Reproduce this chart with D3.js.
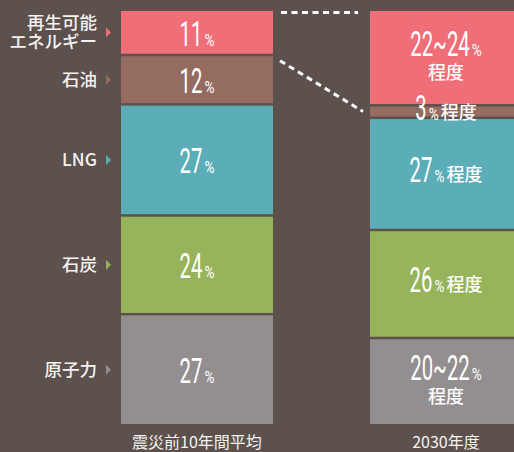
<!DOCTYPE html>
<html>
<head>
<meta charset="utf-8">
<script src="https://cdn.jsdelivr.net/npm/d3@7"></script>
<style>
    body { margin: 0; background: #5c514d; }
    svg { display: block; }
</style>
</head>
<body>
<div id="chart-area"></div>
<script>
// ---- data ----
var sources = ["再生可能エネルギー", "石油", "LNG", "石炭", "原子力"];
var sourceLines = [["再生可能", "エネルギー"], ["石油"], ["LNG"], ["石炭"], ["原子力"]];
var periods = ["震災前10年間平均", "2030年度"];
var shareBefore = [11, 12, 27, 24, 27];
var share2030 = [23, 3, 27, 26, 21];   // ranges drawn at their midpoint
var labelsBefore = ["11%", "12%", "27%", "24%", "27%"];
var labels2030 = ["22~24%|程度", "3%程度", "27%程度", "26%程度", "20~22%|程度"];
var colors = ["#f06e77", "#946d60", "#5badb7", "#98b45b", "#938e8f"];

var width = 514, height = 452;
var gap = 2.5;
var jpFont = "'Noto Sans CJK JP', 'Noto Sans', sans-serif";

var svg = d3.select("#chart-area")
    .append("svg")
        .attr("width", width)
        .attr("height", height);

// one row per period, one column per source
var rows = periods.map(function(p, i) {
    var row = { period: p };
    var vals = i == 0 ? shareBefore : share2030;
    sources.forEach(function(s, j) { row[s] = vals[j]; });
    return row;
});

var stack = d3.stack()
    .keys(sources)
    .offset(d3.stackOffsetExpand);
var series = stack(rows);

var x = d3.scaleBand()
    .domain(periods)
    .range([121, 522])
    .paddingInner(97 / 249);

var y = d3.scaleLinear()
    .domain([0, 1])
    .range([11, 426.5]);

var color = d3.scaleOrdinal()
    .domain(sources)
    .range(colors);

// stacked segments
var layers = svg.selectAll("g.layer")
        .data(series)
    .enter()
        .append("g")
        .attr("class", "layer")
        .attr("fill", function(d) { return color(d.key); });

layers.selectAll("rect")
        .data(function(d) { return d; })
    .enter()
        .append("rect")
        .attr("x", function(d) { return x(d.data.period); })
        .attr("y", function(d) { return y(d[0]); })
        .attr("width", x.bandwidth())
        .attr("height", function(d) { return y(d[1]) - y(d[0]) - gap; });

function mid(d) {
    return (y(d[0]) + y(d[1]) - gap) / 2;
}

// one line of a value label: condensed number, small %, then 程度
function addLine(parent, line, cx, baseline) {
    var m = line.match(/^([\d~]*)(%?)(.*)$/);
    var g = parent.append("g");
    var parts = [];
    if (m[1]) {
        var t = g.append("text")
            .attr("font-family", "Roboto, sans-serif")
            .attr("font-weight", 400)
            .attr("font-size", 35)
            .text(m[1]);
        parts.push({ node: t, sx: 0.58 });
    }
    if (m[2]) {
        var t2 = g.append("text")
            .attr("font-family", "Roboto, sans-serif")
            .attr("font-size", 17)
            .text("%");
        parts.push({ node: t2, sx: 0.8 });
    }
    if (m[3]) {
        var t3 = g.append("text")
            .attr("font-family", jpFont)
            .attr("font-weight", 500)
            .attr("font-size", 18)
            .attr("dy", -1)
            .text(m[3]);
        parts.push({ node: t3, sx: 1 });
    }
    var pos = 0;
    parts.forEach(function(p, i) {
        if (i > 0) pos += 2;
        p.node.attr("transform", "translate(" + pos + ",0) scale(" + p.sx + ",1)");
        pos += p.node.node().getComputedTextLength() * p.sx;
    });
    g.attr("fill", "#fff")
        .attr("transform", "translate(" + (cx - pos / 2) + "," + baseline + ")");
}

var labelLayer = svg.append("g");
series.forEach(function(s, i) {
    // before the earthquake
    var d0 = s[0];
    addLine(labelLayer, labelsBefore[i], x(periods[0]) + x.bandwidth() / 2, mid(d0) + 13.5);

    // 2030 target
    var d1 = s[1];
    var lines = labels2030[i].split("|");
    var cx = x(periods[1]) + x.bandwidth() / 2;
    if (lines.length == 1) {
        addLine(labelLayer, lines[0], cx, mid(d1) + 8);
    } else {
        addLine(labelLayer, lines[0], cx, mid(d1) - 2);
        addLine(labelLayer, lines[1], cx, mid(d1) + 22);
    }
});

// category names with little triangles
var cats = svg.selectAll("g.cat")
        .data(series)
    .enter()
        .append("g")
        .attr("class", "cat")
        .attr("transform", function(d) { return "translate(0," + mid(d[0]) + ")"; });

cats.append("path")
    .attr("d", "M106,-5L111,0L106,5Z")
    .attr("fill", function(d) { return color(d.key); });

cats.each(function(d, i) {
    var lines = sourceLines[i];
    var t = d3.select(this).append("text")
        .attr("text-anchor", "end")
        .attr("font-family", jpFont)
        .attr("font-weight", 500)
        .attr("font-size", 17.5)
        .attr("fill", "#f6f2f0");
    lines.forEach(function(l, k) {
        t.append("tspan")
            .attr("x", 97)
            .attr("y", (k - (lines.length - 1) / 2) * 18.5)
            .attr("dy", "0.36em")
            .text(l);
    });
});

// dashed connectors between the renewable blocks
var left = x(periods[0]) + x.bandwidth();
var right = x(periods[1]);
var dash = svg.append("g")
    .attr("stroke", "#fff")
    .attr("stroke-width", 3)
    .attr("stroke-dasharray", "6,4.5")
    .attr("fill", "none");
dash.append("line")
    .attr("x1", left + 8).attr("y1", y(0) + 1.5)
    .attr("x2", right - 12).attr("y2", y(0) + 1.5);
dash.append("line")
    .attr("x1", left + 7).attr("y1", mid(series[1][0]) - 19)
    .attr("x2", right - 7).attr("y2", mid(series[1][1]));

// period names under the bars
svg.selectAll("text.period")
        .data(periods)
    .enter()
        .append("text")
        .attr("class", "period")
        .attr("x", function(d) { return x(d) + x.bandwidth() / 2; })
        .attr("y", 448)
        .attr("text-anchor", "middle")
        .attr("font-family", jpFont)
        .attr("font-size", 16)
        .attr("fill", "#f6f2f0")
        .text(function(d) { return d; });
</script>
</body>
</html>
